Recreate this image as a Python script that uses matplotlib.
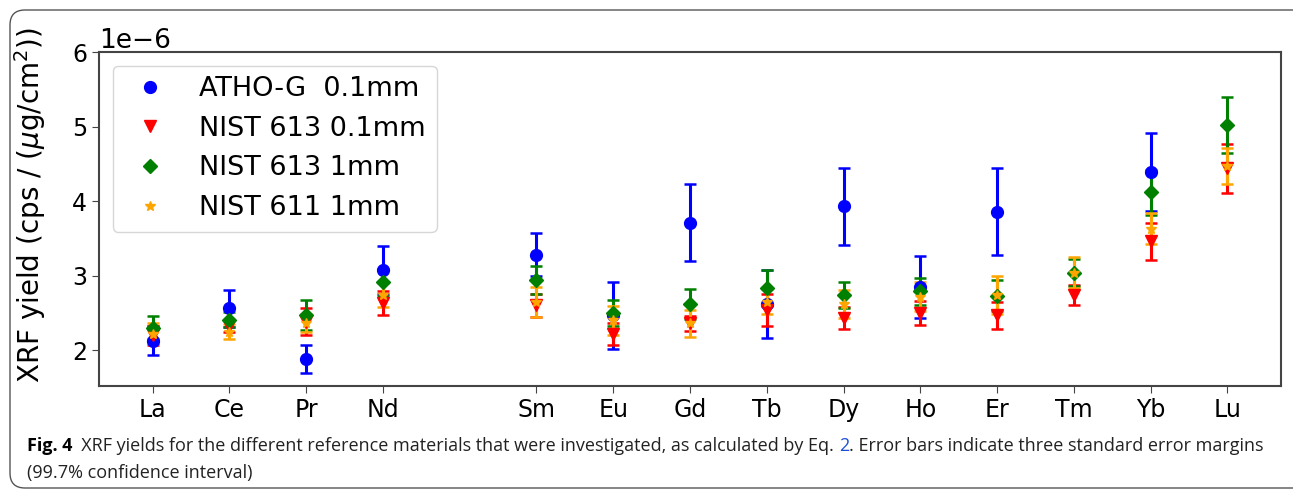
import numpy as np
import matplotlib
matplotlib.use("Agg")
import matplotlib.pyplot as plt
from matplotlib.patches import FancyBboxPatch

# ------------------------------------------------------------
# Data (XRF yields, units of 1e-6 cps / (ug/cm^2))
# ------------------------------------------------------------
elements = ["La", "Ce", "Pr", "Nd", "Sm", "Eu", "Gd", "Tb", "Dy", "Ho", "Er", "Tm", "Yb", "Lu"]
atomic_z = [57, 58, 59, 60, 62, 63, 64, 65, 66, 67, 68, 69, 70, 71]

atho_g = [2.13, 2.56, 1.88, 3.08, 3.28, 2.47, 3.71, 2.62, 3.93, 2.85, 3.86, np.nan, 4.39, np.nan]
atho_g_err = [0.19, 0.25, 0.19, 0.32, 0.29, 0.45, 0.52, 0.46, 0.52, 0.42, 0.58, np.nan, 0.52, np.nan]

nist613_01 = [2.20, 2.32, 2.38, 2.63, 2.60, 2.22, 2.36, 2.54, 2.43, 2.50, 2.47, 2.74, 3.46, 4.44]
nist613_01_err = [0.13, 0.08, 0.18, 0.16, 0.16, 0.15, 0.10, 0.22, 0.15, 0.16, 0.18, 0.14, 0.25, 0.33]

nist613_1 = [2.30, 2.41, 2.47, 2.91, 2.94, 2.50, 2.62, 2.83, 2.74, 2.79, 2.73, 3.04, 4.12, 5.02]
nist613_1_err = [0.155, 0.10, 0.20, 0.18, 0.19, 0.18, 0.20, 0.24, 0.17, 0.18, 0.21, 0.18, 0.30, 0.375]

nist611_1 = [2.22, 2.25, 2.37, 2.74, 2.65, 2.40, 2.36, 2.65, 2.62, 2.72, 2.74, 3.04, 3.63, 4.47]
nist611_1_err = [0.14, 0.10, 0.12, 0.155, 0.20, 0.19, 0.18, 0.17, 0.19, 0.20, 0.25, 0.21, 0.21, 0.24]

series = [
    ("ATHO-G  0.1mm", atho_g, atho_g_err, "blue", "o", 8.5),
    ("NIST 613 0.1mm", nist613_01, nist613_01_err, "red", "v", 8),
    ("NIST 613 1mm", nist613_1, nist613_1_err, "green", "D", 7),
    ("NIST 611 1mm", nist611_1, nist611_1_err, "orange", "*", 7),
]

# ------------------------------------------------------------
# Figure
# ------------------------------------------------------------
W, H, DPI = 1293, 492, 100
fig = plt.figure(figsize=(W / DPI, H / DPI), dpi=DPI, facecolor="white")

# rounded frame around the whole figure panel
frame = FancyBboxPatch((0.10, 0.04), 13.0, 4.78,
                       boxstyle="round,pad=0,rounding_size=0.15",
                       transform=fig.dpi_scale_trans, facecolor="none",
                       edgecolor="#555555", linewidth=1.0)
fig.patches.append(frame)

ax = fig.add_axes([99 / W, 1 - 386 / H, (1281 - 99) / W, (386 - 52) / H])

for label, vals, errs, color, marker, ms in series:
    y = np.array(vals) * 1e-6
    e = np.array(errs) * 1e-6
    ax.errorbar(atomic_z, y, yerr=e, fmt=marker, color=color, ms=ms,
                elinewidth=2.2, capsize=4.5, capthick=1.8, label=label)

ax.set_ylim(1.52e-6, 6e-6)
ax.set_yticks([2e-6, 3e-6, 4e-6, 5e-6, 6e-6])
ax.set_xticks(atomic_z)
ax.set_xticklabels(elements)
ax.tick_params(labelsize=17, length=5, color="#444444")
ax.yaxis.get_offset_text().set_fontsize(19)
ax.set_ylabel(r"XRF yield (cps / ($\mu$g/cm$^2$))", fontsize=20)
ax.yaxis.set_label_coords(-0.043, 0.542)
for sp in ax.spines.values():
    sp.set_color("#444444")
    sp.set_linewidth(1.5)

handles, labels = ax.get_legend_handles_labels()
handles = [h[0] for h in handles]
ax.legend(handles, labels, loc="upper left", fontsize=19.5)

# ------------------------------------------------------------
# Caption (mixed bold / blue link)
# ------------------------------------------------------------
cap_font = "Open Sans"
cap_size = 12.95
fig.canvas.draw()
renderer = fig.canvas.get_renderer()

pieces = [
    ("Fig. 4", "bold", "black"),
    ("  XRF yields for the different reference materials that were investigated, as calculated by Eq.\u00a0", "normal", "#222222"),
    ("2", "normal", "#1a4fd6"),
    (". Error bars indicate three standard error margins", "normal", "#222222"),
]
x = 27 / W
y1 = 1 - 446 / H
for s, weight, color in pieces:
    t = fig.text(x, y1, s, fontsize=cap_size, family=cap_font, weight=weight,
                 color=color, va="center", ha="left")
    bb = t.get_window_extent(renderer)
    x += bb.width / W

fig.text(27 / W, 1 - 473 / H, "(99.7% confidence interval)", fontsize=cap_size,
         family=cap_font, color="#222222", va="center", ha="left")

fig.savefig("out.png", dpi=DPI)
